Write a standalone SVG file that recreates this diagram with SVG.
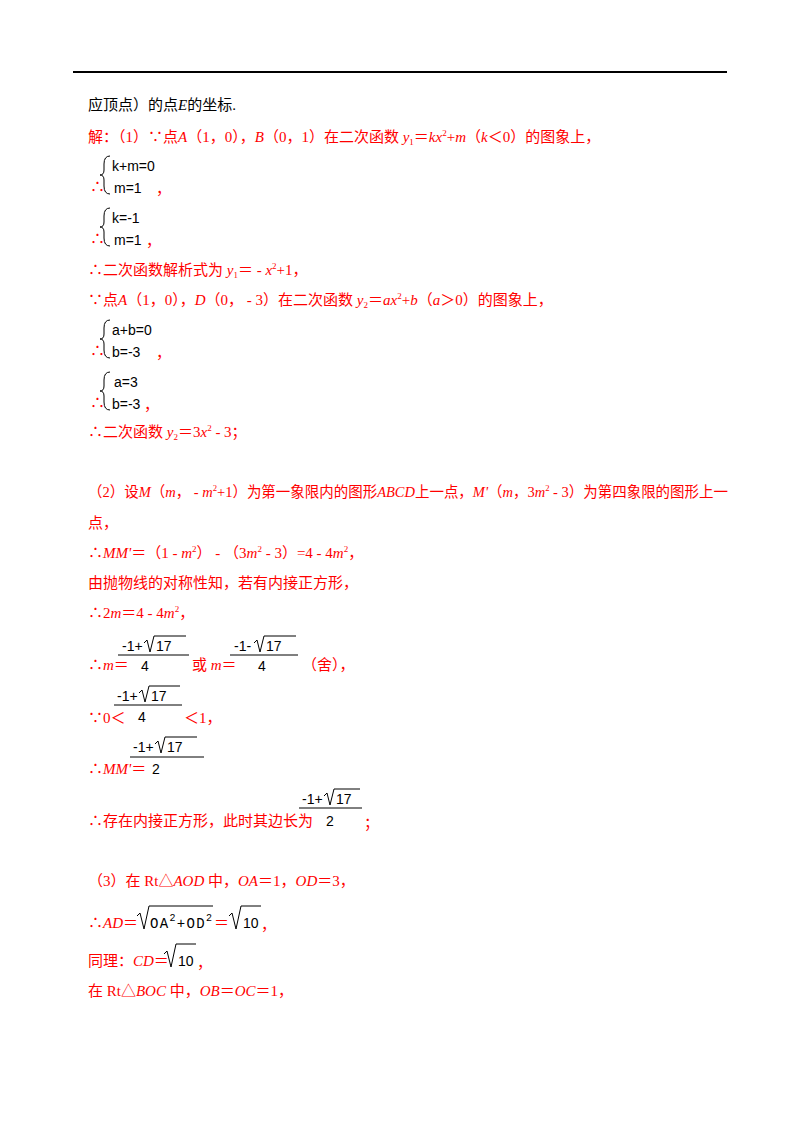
<svg xmlns="http://www.w3.org/2000/svg" width="800" height="1132" viewBox="0 0 800 1132">
<style>
text{font-family:"Liberation Serif","Noto Sans CJK SC",serif;font-size:15px;fill:#f00}
.k{fill:#000}
.f{font-family:"Liberation Sans","DejaVu Sans",sans-serif;font-size:14px;fill:#000}
.mono{font-family:"Liberation Mono",monospace;font-size:14px;fill:#000}
.i{font-style:italic}
.br{fill:none;stroke:#000;stroke-width:1}
.bar{stroke:#000;stroke-width:1}
</style>
<rect width="800" height="1132" fill="#fff"/>
<line x1="73" y1="72" x2="727" y2="72" stroke="#000" stroke-width="2"/>
<text x="88" y="110" class="k">应顶点）的点<tspan class="i">E</tspan>的坐标.</text>
<text x="88" y="142">解：（1）∵点<tspan class="i">A</tspan>（1，0），<tspan class="i">B</tspan>（0，1）在二次函数 <tspan class="i">y</tspan><tspan font-size="9" dy="3">1</tspan><tspan dy="-3">＝</tspan><tspan class="i">kx</tspan><tspan font-size="9" dy="-6">2</tspan><tspan dy="6">+</tspan><tspan class="i">m</tspan>（<tspan class="i">k</tspan>＜0）的图象上，</text>
<g id="sys1">
<text x="90" y="192">∴</text>
<path class="br" d="M110,156 Q104,156 104,164 L104,170 Q104,175 100,175 Q104,175 104,180 L104,186 Q104,194 110,194"/>
<text x="112" y="171" class="f">k+m=0</text><text x="114" y="193" class="f">m=1</text><text x="156" y="194">，</text>
</g>
<g id="sys2">
<text x="90" y="244">∴</text>
<path class="br" d="M110,208 Q104,208 104,216 L104,222 Q104,227 100,227 Q104,227 104,232 L104,238 Q104,246 110,246"/>
<text x="112" y="223" class="f">k=-1</text><text x="114" y="245" class="f">m=1</text><text x="146" y="246">，</text>
</g>
<text x="88" y="275">∴二次函数解析式为 <tspan class="i">y</tspan><tspan font-size="9" dy="3">1</tspan><tspan dy="-3">＝ - </tspan><tspan class="i">x</tspan><tspan font-size="9" dy="-6">2</tspan><tspan dy="6">+1，</tspan></text>
<text x="88" y="305">∵点<tspan class="i">A</tspan>（1，0），<tspan class="i">D</tspan>（0， - 3）在二次函数 <tspan class="i">y</tspan><tspan font-size="9" dy="3">2</tspan><tspan dy="-3">＝</tspan><tspan class="i">ax</tspan><tspan font-size="9" dy="-6">2</tspan><tspan dy="6">+</tspan><tspan class="i">b</tspan>（<tspan class="i">a</tspan>＞0）的图象上，</text>
<g id="sys3">
<text x="90" y="356">∴</text>
<path class="br" d="M110,320 Q104,320 104,328 L104,334 Q104,339 100,339 Q104,339 104,344 L104,350 Q104,358 110,358"/>
<text x="112" y="335" class="f">a+b=0</text><text x="112" y="357" class="f">b=-3</text><text x="156" y="358">，</text>
</g>
<g id="sys4">
<text x="90" y="408">∴</text>
<path class="br" d="M110,372 Q104,372 104,380 L104,386 Q104,391 100,391 Q104,391 104,396 L104,402 Q104,410 110,410"/>
<text x="114" y="387" class="f">a=3</text><text x="112" y="409" class="f">b=-3</text><text x="144" y="410">，</text>
</g>
<text x="88" y="437">∴二次函数 <tspan class="i">y</tspan><tspan font-size="9" dy="3">2</tspan><tspan dy="-3">＝3</tspan><tspan class="i">x</tspan><tspan font-size="9" dy="-6">2</tspan><tspan dy="6"> - 3；</tspan></text>
<text x="88" y="497" textLength="640" lengthAdjust="spacingAndGlyphs">（2）设<tspan class="i">M</tspan>（<tspan class="i">m</tspan>， - <tspan class="i">m</tspan><tspan font-size="9" dy="-6">2</tspan><tspan dy="6">+1）为第一象限内的图形</tspan><tspan class="i">ABCD</tspan>上一点，<tspan class="i">M'</tspan>（<tspan class="i">m</tspan>，3<tspan class="i">m</tspan><tspan font-size="9" dy="-6">2</tspan><tspan dy="6"> - 3）为第四象限的图形上一</tspan></text>
<text x="88" y="528">点，</text>
<text x="88" y="558">∴<tspan class="i">MM'</tspan>＝（1 - <tspan class="i">m</tspan><tspan font-size="9" dy="-6">2</tspan><tspan dy="6">） - （3</tspan><tspan class="i">m</tspan><tspan font-size="9" dy="-6">2</tspan><tspan dy="6"> - 3）=4 - 4</tspan><tspan class="i">m</tspan><tspan font-size="9" dy="-6">2</tspan><tspan dy="6">，</tspan></text>
<text x="88" y="588">由抛物线的对称性知，若有内接正方形，</text>
<text x="88" y="618">∴2<tspan class="i">m</tspan>＝4 - 4<tspan class="i">m</tspan><tspan font-size="9" dy="-6">2</tspan><tspan dy="6">，</tspan></text>
<g id="m-line">
<text x="88" y="670">∴<tspan class="i">m</tspan>＝</text>
<text x="122" y="651" class="f">-1+</text><path class="br" d="M144,643 L147,640 L150,652 L154,636 L186,636"/><text x="156" y="651" class="f">17</text>
<line class="bar" x1="118" y1="655" x2="189" y2="655"/><text x="141" y="671" class="f">4</text>
<text x="192" y="670">或 <tspan class="i">m</tspan>＝</text>
<text x="234" y="651" class="f">-1-</text><path class="br" d="M254,643 L257,640 L260,652 L264,636 L296,636"/><text x="266" y="651" class="f">17</text>
<line class="bar" x1="230" y1="655" x2="298" y2="655"/><text x="258" y="671" class="f">4</text>
<text x="302" y="670">（舍），</text>
</g>
<g id="ineq">
<text x="88" y="723">∵0＜</text>
<text x="117" y="701" class="f">-1+</text><path class="br" d="M139,693 L142,690 L145,702 L149,686 L180,686"/><text x="151" y="701" class="f">17</text>
<line class="bar" x1="114" y1="705" x2="182" y2="705"/><text x="138" y="722" class="f">4</text>
<text x="184" y="723">＜1，</text>
</g>
<g id="mm">
<text x="88" y="774">∴<tspan class="i">MM'</tspan>＝</text>
<text x="133" y="752" class="f">-1+</text><path class="br" d="M155,744 L158,741 L161,753 L165,737 L197,737"/><text x="167" y="752" class="f">17</text>
<line class="bar" x1="130" y1="757" x2="204" y2="757"/><text x="152" y="774" class="f">2</text>
</g>
<g id="side">
<text x="88" y="826">∴存在内接正方形，此时其边长为</text>
<text x="302" y="804" class="f">-1+</text><path class="br" d="M324,796 L327,793 L330,805 L334,789 L360,789"/><text x="336" y="804" class="f">17</text>
<line class="bar" x1="299" y1="808" x2="362" y2="808"/><text x="326" y="826" class="f">2</text>
<text x="364" y="828">；</text>
</g>
<text x="88" y="886">（3）在 Rt△<tspan class="i">AOD</tspan> 中，<tspan class="i">OA</tspan>＝1，<tspan class="i">OD</tspan>＝3，</text>
<g id="ad">
<text x="88" y="928">∴<tspan class="i">AD</tspan>＝</text>
<path class="br" d="M137,916 L140,913 L144,929 L149,906 L213,906"/>
<text x="150" y="928" class="mono" textLength="62">OA<tspan font-size="10" dy="-7">2</tspan><tspan dy="7">+OD</tspan><tspan font-size="10" dy="-7">2</tspan></text>
<text x="214" y="928">＝</text>
<path class="br" d="M229,916 L232,913 L236,929 L241,906 L261,906"/><text x="243" y="928" class="f">10</text>
<text x="261" y="930">，</text>
</g>
<g id="cd">
<text x="88" y="966">同理：<tspan class="i">CD</tspan>＝</text>
<path class="br" d="M164,954 L167,951 L171,967 L176,944 L196,944"/><text x="178" y="966" class="f">10</text>
<text x="197" y="968">，</text>
</g>
<text x="88" y="996">在 Rt△<tspan class="i">BOC</tspan> 中，<tspan class="i">OB</tspan>＝<tspan class="i">OC</tspan>＝1，</text>
</svg>
